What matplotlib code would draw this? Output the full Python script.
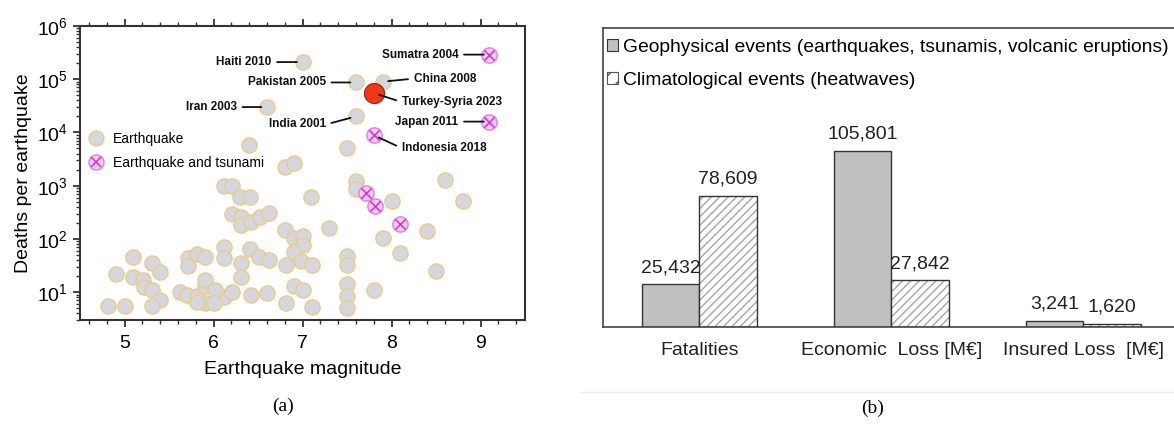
import matplotlib
matplotlib.use('Agg')
import matplotlib.pyplot as plt
import numpy as np
from matplotlib.ticker import LogLocator, MultipleLocator, NullFormatter
from matplotlib.legend_handler import HandlerTuple
from matplotlib.patches import Patch
from matplotlib.lines import Line2D

plt.rcParams['font.family'] = ['Liberation Sans', 'DejaVu Sans']
plt.rcParams['mathtext.fontset'] = 'custom'
plt.rcParams['mathtext.rm'] = 'Liberation Sans'
plt.rcParams['hatch.linewidth'] = 1.0

# ---- panel (a): earthquakes, magnitude vs deaths
quake_mag = [7.0, 7.6, 7.9, 6.6, 7.6, 6.4, 7.5, 6.8, 6.9, 7.6, 7.6, 7.1,
             8.6, 8.8, 8.0, 8.4, 7.9, 8.1, 8.5, 7.8,
             6.12, 6.21, 6.3, 6.41, 6.21, 6.31, 6.31, 6.42, 6.52, 6.62,
             6.8, 6.9, 7.0, 7.0, 6.9, 7.3, 6.98, 7.11, 6.81,
             6.41, 6.51, 6.62, 6.12, 6.12, 6.31, 6.31,
             7.5, 7.5, 7.5, 7.5, 7.5,
             6.9, 7.0, 6.42, 6.6, 6.81, 7.11, 6.12, 6.21,
             5.1, 5.31, 5.4, 4.91, 5.1, 5.21, 5.22, 5.31, 5.4, 4.82, 5.01, 5.31,
             5.71, 5.71, 5.82, 5.91, 5.62, 5.7, 5.81, 5.91, 5.91, 6.02,
             5.91, 6.0, 5.81]
quake_deaths = [2.1e5, 8.7e4, 9.0e4, 3.0e4, 2.0e4, 5.9e3, 5.0e3, 2.2e3, 2.7e3, 1.2e3, 860, 620,
                1.3e3, 520, 520, 140, 104, 55, 25, 11,
                1000, 1000, 620, 610, 300, 260, 180, 210, 260, 310,
                145, 105, 112, 76, 57, 160, 38, 33, 32,
                65, 45, 41, 71, 43, 35, 19,
                47, 32, 14.5, 8.3, 5.0,
                13, 11, 8.8, 9.7, 6.2, 5.3, 8.2, 10,
                45, 35, 24, 22, 19, 17, 12.6, 11, 7.1, 5.4, 5.4, 5.4,
                43, 31, 53, 45, 10, 9, 8.4, 13, 17, 11,
                6.2, 6.2, 6.6]

tsunami_mag = [9.1, 9.1, 7.8, 7.71, 7.81, 8.1]
tsunami_deaths = [2.9e5, 1.6e4, 8.9e3, 740, 420, 190]

turkey_mag = [7.8]
turkey_deaths = [5.5e4]

label_names = ['Haiti 2010', 'Pakistan 2005', 'Iran 2003', 'India 2001', 'China 2008',
               'Turkey-Syria 2023', 'Sumatra 2004', 'Japan 2011', 'Indonesia 2018']
label_mag = [7.0, 7.6, 6.6, 7.6, 7.9, 7.8, 9.1, 9.1, 7.8]
label_deaths = [2.1e5, 8.7e4, 3.0e4, 2.0e4, 9.0e4, 5.5e4, 2.9e5, 1.6e4, 8.9e3]
# text offsets in pixels (dx, dy); negative dx puts the text on the left
label_offsets = [(-31, 0), (-30, 0), (-30, 0), (-30, -8), (31, 3),
                 (28, -9), (-31, 0), (-31, 0), (28, -13)]

# ---- panel (b): bar chart
categories = ['Fatalities', 'Economic  Loss [M\u20ac]', 'Insured Loss  [M\u20ac]']
geo_values = [25432, 105801, 3241]
clim_values = [78609, 27842, 1620]
geo_label = 'Geophysical events (earthquakes, tsunamis, volcanic eruptions)'
clim_label = 'Climatological events (heatwaves)'

W, H = 1174, 424
fig = plt.figure(figsize=(W / 100, H / 100), dpi=100)
fig.patch.set_facecolor('white')

# ================= panel (a)
ax = fig.add_axes([80 / W, 1 - 320 / H, 445 / W, 294 / H])
ax.scatter(quake_mag, quake_deaths, s=120, facecolor='#d5d7dc', edgecolor='#ebca8e',
           linewidth=1.0, zorder=2)
ax.scatter(tsunami_mag, tsunami_deaths, s=120, facecolor='#f1c9f1', edgecolor='#e07fe0',
           linewidth=1.0, zorder=3)
ax.scatter(tsunami_mag, tsunami_deaths, s=55, marker='x', color='#cf3fcf',
           linewidth=1.2, zorder=3.1)
ax.scatter(turkey_mag, turkey_deaths, s=210, facecolor='#f2361a', edgecolor='#8a2a14',
           linewidth=0.8, zorder=4)

for name, m, d, (dx, dy) in zip(label_names, label_mag, label_deaths, label_offsets):
    ha = 'right' if dx < 0 else 'left'
    rel = (1, 0.5) if dx < 0 else (0, 0.5)
    ax.annotate(name, xy=(m, d), xytext=(dx, dy), textcoords='offset pixels',
                ha=ha, va='center', fontsize=8.5, fontweight='bold', color='#111111',
                zorder=6,
                arrowprops=dict(arrowstyle='-', color='#111111', lw=1.3,
                                shrinkA=2, shrinkB=4, relpos=rel))

qh = Line2D([], [], marker='o', ls='', markersize=10.8, markerfacecolor='#d5d7dc',
            markeredgecolor='#ebca8e', markeredgewidth=1.0)
th1 = Line2D([], [], marker='o', ls='', markersize=10.8, markerfacecolor='#f1c9f1',
             markeredgecolor='#e07fe0', markeredgewidth=1.0)
th2 = Line2D([], [], marker='x', ls='', markersize=7.4, color='#cf3fcf', markeredgewidth=1.2)
ax.legend([qh, (th1, th2)], ['Earthquake', 'Earthquake and tsunami'],
          handler_map={tuple: HandlerTuple(ndivide=1)},
          loc='upper left', bbox_to_anchor=(0.0, 0.66), frameon=False, fontsize=10,
          handlelength=1.5, handletextpad=0.5, labelspacing=0.75, borderaxespad=0)

ax.set_xlim(4.5, 9.5)
ax.set_yscale('log')
ax.set_ylim(3, 1e6)
ax.xaxis.set_major_locator(MultipleLocator(1))
ax.xaxis.set_minor_locator(MultipleLocator(0.2))
ax.yaxis.set_major_locator(LogLocator(base=10, numticks=10))
ax.yaxis.set_minor_locator(LogLocator(base=10, subs=np.arange(2, 10), numticks=20))
ax.yaxis.set_minor_formatter(NullFormatter())
ax.tick_params(which='both', direction='out', top=True, right=False, color='#333333')
ax.tick_params(which='major', length=5, width=1.3, labelsize=14)
ax.tick_params(which='minor', length=3, width=1.0)
ax.tick_params(axis='x', which='major', pad=6)
for sp in ax.spines.values():
    sp.set_linewidth(1.5)
    sp.set_color('#333333')
ax.set_xlabel('Earthquake magnitude', fontsize=14, labelpad=6)
ax.set_ylabel('Deaths per earthquake', fontsize=14, labelpad=4)

# ================= panel (b)
ax2 = fig.add_axes([603.3 / W, 1 - 326.7 / H, 576 / W, (326.7 - 28) / H])
x = np.arange(len(categories))
bw = 0.3
ax2.bar(x - bw / 2, geo_values, bw, color='#c0c0c0', edgecolor='#333333', linewidth=1.0,
        zorder=2)
ax2.bar(x + bw / 2, clim_values, bw, color='white', edgecolor='#a6a6a6', hatch='////',
        linewidth=0, zorder=2)
ax2.bar(x + bw / 2, clim_values, bw, fill=False, edgecolor='#333333', linewidth=1.0, zorder=3)

for xi, v in zip(x - bw / 2, geo_values):
    ax2.annotate(f'{v:,}', (xi, v), xytext=(0, 6), textcoords='offset points',
                 ha='center', va='bottom', fontsize=14, color='#222222')
for xi, v in zip(x + bw / 2, clim_values):
    ax2.annotate(f'{v:,}', (xi, v), xytext=(0, 6), textcoords='offset points',
                 ha='center', va='bottom', fontsize=14, color='#222222')

ax2.set_xlim(-0.5, 2.5)
ax2.set_ylim(0, 180000)
ax2.set_xticks(x)
ax2.set_xticklabels(categories, fontsize=14, color='#222222')
ax2.tick_params(axis='x', length=0, pad=11)
ax2.set_yticks([])
for sp in ax2.spines.values():
    sp.set_linewidth(1.2)
    sp.set_color('#444444')

lh = [Patch(facecolor='#c0c0c0', edgecolor='#333333', linewidth=0.8),
      Patch(facecolor='white', edgecolor='#555555', hatch='//', linewidth=0.8)]
ax2.legend(lh, [geo_label, clim_label], loc='upper left', bbox_to_anchor=(0.0, 0.977),
           frameon=False, fontsize=13.9, handlelength=0.55, handleheight=0.55,
           handletextpad=0.25, labelspacing=0.85, borderaxespad=0, borderpad=0.2)

# captions and faint separator
fig.text(283 / W, 1 - 406 / H, '(a)', family=['Liberation Serif', 'DejaVu Serif'],
         fontsize=14, ha='center', va='center')
fig.text(873 / W, 1 - 408 / H, '(b)', family=['Liberation Serif', 'DejaVu Serif'],
         fontsize=14, ha='center', va='center')
fig.add_artist(Line2D([580 / W, 1.0], [1 - 392 / H] * 2, color='#ececec', lw=1))

fig.savefig('out.png', dpi=100, facecolor='white')
